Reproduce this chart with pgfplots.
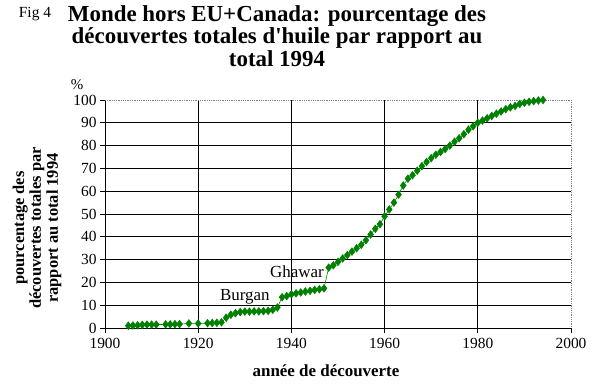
\documentclass[border=0pt]{standalone}
\usepackage{pgfplots}
\pgfplotsset{compat=1.18}
\usepackage{fontspec}
\setmainfont{Liberation Serif}
\definecolor{dgreen}{RGB}{0,128,0}
\begin{document}
\begin{tikzpicture}[x=1bp,y=1bp]
\path[use as bounding box] (-105,-61) rectangle (487,328);
\begin{axis}[
  at={(0,0)}, anchor=south west,
  scale only axis, width=466bp, height=228bp,
  xmin=1900, xmax=2000, ymin=0, ymax=100,
  axis x line*=bottom, axis y line*=left,
  axis line style={black, line width=0.8pt, -},
  xtick={1900,1920,1940,1960,1980}, extra x ticks={2000},
  ytick={0,10,...,90}, extra y ticks={100},
  extra tick style={grid=none},
  grid=major, major grid style={black, line width=0.8pt},
  tick align=outside, major tick length=5bp,
  tick style={black, line width=0.8pt},
  /pgf/number format/assume math mode=true,
  /pgf/number format/set thousands separator={},
  tick label style={font=\fontsize{15.5}{17}\selectfont},
  xticklabel style={yshift=-2bp},
  clip=false,
]
\draw[gray, densely dotted, line width=0.8pt] (rel axis cs:0,1) -- (rel axis cs:1,1) -- (rel axis cs:1,0);
\addplot[dgreen, line width=0.6pt, mark=diamond*, mark size=3.8bp, mark options={fill=dgreen, draw=dgreen}] coordinates {
(1905,1.0)(1906,1.1)(1907,1.2)(1908,1.4)(1909,1.5)(1910,1.5)(1911,1.5)
(1913,1.6)(1914,1.6)(1915,1.7)(1916,1.7)(1918,2.0)(1920,2.0)
(1922,2.1)(1923,2.2)(1924,2.3)(1925,2.5)(1926,4.5)(1927,5.8)(1928,6.5)
(1929,7.0)(1930,7.2)(1931,7.2)(1932,7.3)(1933,7.3)(1934,7.4)(1935,7.5)
(1936,8.0)(1937,9.0)(1938,13.5)(1939,14.0)(1940,14.8)(1941,15.2)(1942,15.6)
(1943,16.0)(1944,16.3)(1945,16.7)(1946,17.0)(1947,17.4)
(1948,26.5)(1949,27.5)(1950,29)(1951,30.5)(1952,32)(1953,33.5)(1954,35)
(1955,36.5)(1956,38.5)(1957,41)(1958,43.5)(1959,45.5)(1960,49)(1961,52)
(1962,55)(1963,58.5)(1964,62.5)(1965,65.5)(1966,67)(1967,69)(1968,71)
(1969,72.8)(1970,74.5)(1971,76)(1972,77.2)(1973,78.5)(1974,80)(1975,81.7)
(1976,83.2)(1977,85)(1978,87)(1979,88.5)(1980,90)(1981,91)(1982,92)
(1983,93)(1984,94)(1985,95)(1986,96)(1987,96.8)(1988,97.4)(1989,98.3)
(1990,98.8)(1991,99.2)(1992,99.5)(1993,99.8)(1994,100)
};
\node[font=\fontsize{17}{19}\selectfont] at (axis cs:1930,13.8) {Burgan};
\node[font=\fontsize{17}{19}\selectfont] at (axis cs:1941.2,24.8) {Ghawar};
\end{axis}
\node[align=center, font=\fontsize{23}{22.5}\bfseries\selectfont] at (172,292)
  {Monde hors EU+Canada: pourcentage des\\découvertes totales d\textquotesingle huile par rapport au\\total 1994};
\node[font=\fontsize{15.5}{17}\selectfont] at (-70,314) {Fig 4};
\node[font=\fontsize{15}{17}\selectfont] at (-28,243) {\%};
\node[rotate=90, align=center, font=\fontsize{16.5}{17}\bfseries\selectfont] at (-68,100)
  {pourcentage des\\découvertes totales par\\rapport au total 1994};
\node[font=\fontsize{17}{19}\bfseries\selectfont] at (221,-43) {année de découverte};
\end{tikzpicture}
\end{document}
